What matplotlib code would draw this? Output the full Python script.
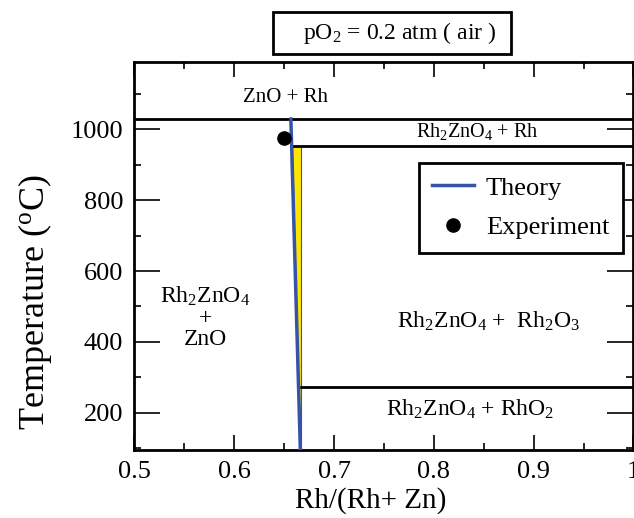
import matplotlib
matplotlib.use('Agg')
import matplotlib.pyplot as plt
from matplotlib.patches import Rectangle, Polygon
from matplotlib.ticker import MultipleLocator

plt.rcParams['font.family'] = ['Liberation Serif', 'DejaVu Serif']
plt.rcParams['mathtext.fontset'] = 'custom'
plt.rcParams['mathtext.rm'] = 'Liberation Serif'
plt.rcParams['mathtext.it'] = 'Liberation Serif'
plt.rcParams['mathtext.default'] = 'regular'

# Phase boundaries (temperature in degC)
T_zno_rh = 1029
T_rh_rh2zno4 = 954
T_rho2 = 273
x_spinel = 0.667

# Theory line (Rh/(Rh+Zn) vs T), starts at the ZnO + Rh boundary
theory_x = [0.6567, 0.6662]
theory_T = [1029, 95]

# Experimental point
exp_x = [0.650]
exp_T = [975]

blue = '#3553a8'

fig = plt.figure(figsize=(6.34, 5.18), dpi=100)
ax = fig.add_axes([0.2121, 0.1313, 0.7871, 0.749])

def theory_at(T):
    # straight line between the two theory points
    frac = (T - theory_T[0]) / (theory_T[1] - theory_T[0])
    return theory_x[0] + frac * (theory_x[1] - theory_x[0])

# yellow sliver between theory line and the spinel composition
x_top = theory_at(T_rh_rh2zno4)
ax.add_patch(Polygon([[x_top, T_rh_rh2zno4], [x_spinel, T_rh_rh2zno4],
                      [x_spinel, theory_T[1]], [theory_x[1], theory_T[1]]],
                     closed=True, facecolor='#ffe600', edgecolor=blue, lw=0.8, zorder=2))

# boundaries
ax.plot([0.5, 1.0], [T_zno_rh, T_zno_rh], color='black', lw=2, zorder=3)
ax.plot([x_top, 1.0], [T_rh_rh2zno4, T_rh_rh2zno4], color='black', lw=2, zorder=3)
ax.plot([x_spinel, 1.0], [T_rho2, T_rho2], color='black', lw=2, zorder=3)

ax.plot(theory_x, theory_T, color=blue, lw=2.5, label='Theory', zorder=4)
ax.plot(exp_x, exp_T, 'o', color='black', ms=9.5, label='Experiment', zorder=5)

ax.set_xlim(0.5, 1.0)
ax.set_ylim(95, 1190)
ax.xaxis.set_minor_locator(MultipleLocator(0.05))
ax.yaxis.set_major_locator(MultipleLocator(200))
ax.yaxis.set_minor_locator(MultipleLocator(100))
ax.set_xticks([0.5, 0.6, 0.7, 0.8, 0.9, 1.0])
ax.set_xticklabels(['0.5', '0.6', '0.7', '0.8', '0.9', '1'])
ax.tick_params(axis='both', which='both', direction='in', top=True, right=True,
               labelsize=19, width=1.2, pad=8)
ax.tick_params(axis='x', which='major', length=11)
ax.tick_params(axis='y', which='major', length=19)
ax.tick_params(axis='both', which='minor', length=5)
for s in ax.spines.values():
    s.set_linewidth(2)

ax.set_xlabel('Rh/(Rh+ Zn)', fontsize=21, va='center')
ax.xaxis.set_label_coords(0.473, -0.129)
ax.set_ylabel(r'Temperature ($^{\rm o}$C)', fontsize=26, va='center')
ax.yaxis.set_label_coords(-0.2, 0.38)

# region labels
ax.text(0.651, 1091, 'ZnO + Rh', fontsize=15, ha='center', va='center')
ax.text(0.843, 995, r'Rh$_2$ZnO$_4$ + Rh', fontsize=14.5, ha='center', va='center')
ax.text(0.571, 469, 'Rh$_2$ZnO$_4$\n+\nZnO', fontsize=17, ha='center', va='center',
        linespacing=1.0)
ax.text(0.855, 458, r'Rh$_2$ZnO$_4$ +  Rh$_2$O$_3$', fontsize=17, ha='center', va='center')
ax.text(0.836, 211, r'Rh$_2$ZnO$_4$ + RhO$_2$', fontsize=17, ha='center', va='center')

leg = ax.legend(loc='upper left', bbox_to_anchor=(0.5696, 0.7397), fontsize=19,
                frameon=True, fancybox=False, edgecolor='black', framealpha=1,
                handlelength=1.6, borderpad=0.5, labelspacing=0.62, handletextpad=0.45,
                borderaxespad=0)
leg.get_frame().set_linewidth(2)

# condition box above the axes
fig.patches.append(Rectangle((273 / 634, 1 - 54 / 518), 238 / 634, 42 / 518,
                             transform=fig.transFigure, facecolor='white',
                             edgecolor='black', lw=2))
fig.text(400 / 634, 1 - 33 / 518, r'pO$_2$ = 0.2 atm ( air )', fontsize=17,
         ha='center', va='center')

fig.savefig('out.png', dpi=100)
